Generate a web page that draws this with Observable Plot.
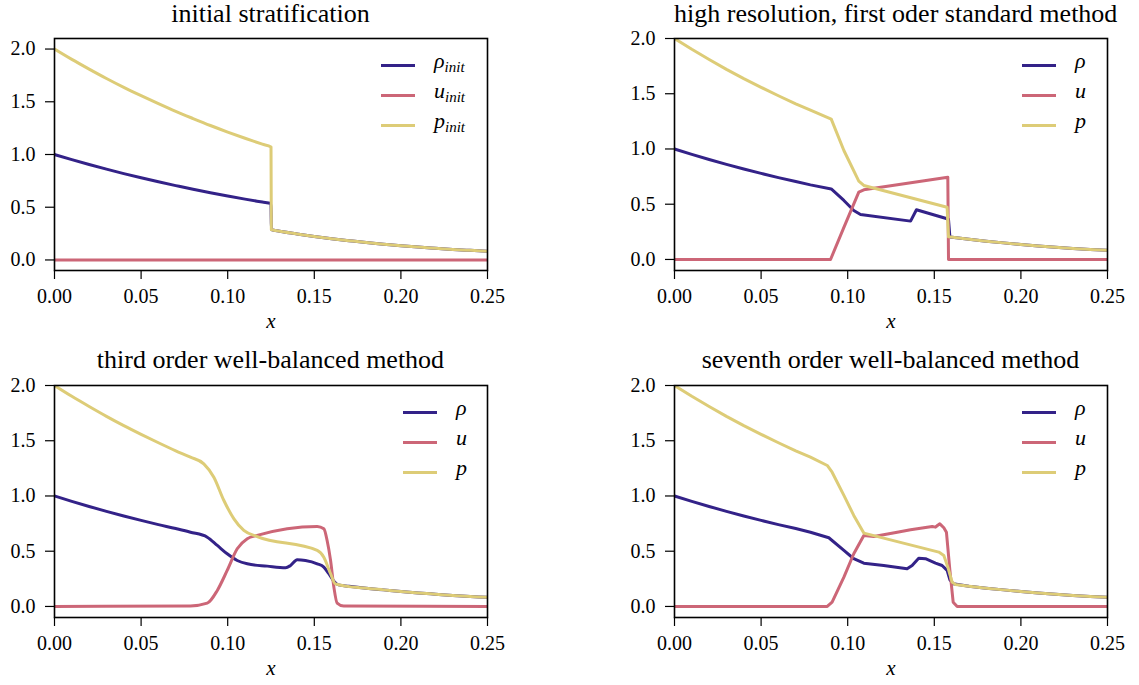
<!DOCTYPE html>
<html><head><meta charset="utf-8">
<script src="https://cdn.jsdelivr.net/npm/d3@7"></script>
<script src="https://cdn.jsdelivr.net/npm/@observablehq/plot@0.6"></script>
<style>
html,body{margin:0;padding:0;background:#fff;}
#wrap{position:relative;width:1139px;height:685px;background:#fff;font-family:"Liberation Serif",serif;color:#000;overflow:hidden}
.panel{position:absolute;width:569px;height:340px}
.panel svg{max-width:none !important;width:569px;height:340px;overflow:visible;background:transparent;font-family:"Liberation Serif",serif !important}
.panel svg text{font-family:"Liberation Serif",serif !important;}
.title{position:absolute;width:433px;text-align:center;font-size:26px;line-height:28px;white-space:nowrap}
.lg-line{position:absolute;height:3px;width:34px}
.lg-text{position:absolute;font-family:"Liberation Serif",serif;font-style:italic;font-size:22px;line-height:24px;height:24px;white-space:nowrap}
.lg-text sub{font-size:15px;vertical-align:baseline;position:relative;top:4px}
</style>
</head><body><div id="wrap"></div>
<script>
// ---------- tick labels ----------
const xTicks = [0, 0.05, 0.10, 0.15, 0.20, 0.25];
const yTicks = [0, 0.5, 1.0, 1.5, 2.0];

// ---------- colours ----------
const colRho = "#332288", colU = "#CC6677", colP = "#DDCC77";

// ---------- panel titles ----------
const titles = [
  "initial stratification",
  "high resolution, first oder standard method",
  "third order well-balanced method",
  "seventh order well-balanced method"
];

// ---------- panel 1: initial stratification ----------
const x1 = [0,0.01,0.02,0.03,0.04,0.05,0.06,0.07,0.08,0.09,0.10,0.11,0.12,0.1250,0.1252,0.13,0.14,0.15,0.16,0.17,0.18,0.19,0.20,0.21,0.22,0.23,0.24,0.25];
const rho1 = [1.000,0.951,0.905,0.861,0.819,0.779,0.741,0.705,0.670,0.638,0.607,0.577,0.549,0.535,0.287,0.273,0.247,0.223,0.202,0.183,0.165,0.150,0.135,0.122,0.111,0.100,0.091,0.082];
const p1 = [2.000,1.902,1.810,1.721,1.637,1.558,1.482,1.409,1.341,1.275,1.213,1.154,1.098,1.071,0.287,0.273,0.247,0.223,0.202,0.183,0.165,0.150,0.135,0.122,0.111,0.100,0.091,0.082];
const xu1 = [0, 0.25];
const u1 = [0, 0];

// ---------- panel 2: first order standard ----------
const xRho2 = [0,0.01,0.02,0.03,0.04,0.05,0.06,0.07,0.0785,0.0905,0.0978,0.1035,0.1074,0.1363,0.1397,0.1574,0.1582,0.1590,0.17,0.18,0.19,0.20,0.21,0.22,0.23,0.24,0.25];
const rho2 = [1.000,0.951,0.905,0.861,0.819,0.779,0.741,0.705,0.675,0.638,0.534,0.443,0.407,0.347,0.450,0.368,0.362,0.204,0.183,0.165,0.150,0.135,0.122,0.111,0.100,0.091,0.082];
const xP2 = [0,0.01,0.02,0.03,0.04,0.05,0.06,0.07,0.0785,0.0905,0.0978,0.1064,0.1093,0.1574,0.1582,0.17,0.18,0.19,0.20,0.21,0.22,0.23,0.24,0.25];
const p2 = [2.000,1.902,1.810,1.721,1.637,1.558,1.482,1.409,1.351,1.270,0.986,0.709,0.670,0.473,0.205,0.183,0.165,0.150,0.135,0.122,0.111,0.100,0.091,0.082];
const xU2 = [0,0.0901,0.0978,0.1064,0.1093,0.1578,0.1582,0.25];
const u2 = [0,0,0.29,0.61,0.63,0.745,0,0];

// ---------- panel 3: third order well-balanced ----------
const xRho3 = [0,0.01,0.02,0.03,0.04,0.05,0.06,0.07,0.0785,0.0882,0.094,0.0997,0.1055,0.1113,0.1228,0.1334,0.1363,0.1401,0.1449,0.1517,0.1555,0.1584,0.1613,0.1640,0.17,0.18,0.19,0.20,0.21,0.22,0.23,0.24,0.25];
const rho3 = [1.000,0.951,0.905,0.861,0.819,0.779,0.741,0.705,0.672,0.627,0.552,0.477,0.416,0.386,0.365,0.350,0.371,0.423,0.416,0.386,0.356,0.296,0.229,0.195,0.183,0.165,0.150,0.135,0.122,0.111,0.100,0.091,0.082];
const xP3 = [0,0.01,0.02,0.03,0.04,0.05,0.06,0.07,0.0785,0.0862,0.092,0.0978,0.1036,0.1093,0.117,0.1517,0.1555,0.1594,0.1622,0.1767,0.18,0.19,0.20,0.21,0.22,0.23,0.24,0.25];
const p3 = [2.000,1.902,1.810,1.721,1.637,1.558,1.482,1.409,1.351,1.291,1.170,0.959,0.793,0.688,0.633,0.507,0.446,0.296,0.205,0.169,0.165,0.150,0.135,0.122,0.111,0.100,0.091,0.082];
const xU3 = [0,0.0785,0.0882,0.094,0.0997,0.1055,0.1113,0.117,0.1517,0.1555,0.1574,0.1594,0.1613,0.1632,0.167,0.25];
const u3 = [0,0.005,0.030,0.145,0.326,0.522,0.613,0.643,0.724,0.703,0.597,0.416,0.175,0.030,0.003,0];

// ---------- panel 4: seventh order well-balanced ----------
const xRho4 = [0,0.01,0.02,0.03,0.04,0.05,0.06,0.07,0.0785,0.0891,0.0978,0.1035,0.1093,0.1208,0.1343,0.1372,0.141,0.1449,0.1507,0.1545,0.1574,0.159,0.1609,0.17,0.18,0.19,0.20,0.21,0.22,0.23,0.24,0.25];
const rho4 = [1.000,0.951,0.905,0.861,0.819,0.779,0.741,0.705,0.672,0.622,0.507,0.432,0.392,0.371,0.341,0.371,0.437,0.432,0.392,0.371,0.326,0.242,0.205,0.183,0.165,0.150,0.135,0.122,0.111,0.100,0.091,0.082];
const xP4 = [0,0.01,0.02,0.03,0.04,0.05,0.06,0.07,0.0785,0.0882,0.091,0.0978,0.1035,0.1093,0.1122,0.1526,0.1555,0.1578,0.1603,0.1622,0.17,0.18,0.19,0.20,0.21,0.22,0.23,0.24,0.25];
const p4 = [2.000,1.902,1.810,1.721,1.637,1.558,1.482,1.409,1.351,1.276,1.215,1.005,0.824,0.664,0.652,0.492,0.462,0.356,0.220,0.199,0.183,0.165,0.150,0.135,0.122,0.111,0.100,0.091,0.082];
const xU4 = [0,0.0882,0.091,0.0978,0.1035,0.1093,0.1151,0.1286,0.1363,0.144,0.1488,0.1507,0.1520,0.1532,0.1555,0.157,0.159,0.1609,0.1632,0.25];
const u4 = [0,0,0.039,0.265,0.477,0.643,0.633,0.672,0.694,0.712,0.724,0.718,0.735,0.748,0.712,0.672,0.326,0.039,0,0];

// ---------- build ----------
const wrap = document.getElementById("wrap");
const W = 569, H = 340, ML = 54, MR = 82, MT = 38, MB = 70;
const SERIF = "Liberation Serif";

function makePanel(cfg) {
  const marks = [];
  cfg.series.forEach((s, i) => {
    const curve = (cfg.curves && cfg.curves[i]) || cfg.curve;
    marks.push(Plot.line(d3.zip(s.x, s.y), {x: d => d[0], y: d => d[1], stroke: s.color, strokeWidth: 3, curve, clip: true}));
  });
  marks.push(Plot.axisX({ticks: xTicks, tickFormat: d3.format(".2f"), tickSize: 9, tickPadding: 9, label: null, strokeWidth: 1.2, fontFamily: SERIF, fontSize: 20}));
  marks.push(Plot.axisY({ticks: yTicks, tickFormat: d3.format(".1f"), tickSize: 9, tickPadding: 10, label: null, strokeWidth: 1.2, fontFamily: SERIF, fontSize: 20}));
  marks.push(Plot.frame({stroke: "black", strokeWidth: 1.6}));
  marks.push(Plot.text(["x"], {text: d => d, frameAnchor: "bottom", dy: 57, fontStyle: "italic", fontSize: 21, fontFamily: SERIF}));
  const svg = Plot.plot({
    width: W, height: H, marginLeft: ML, marginRight: MR, marginTop: MT, marginBottom: MB,
    x: {domain: [0, 0.25]}, y: {domain: cfg.yDomain},
    style: {fontFamily: SERIF, fontSize: "20px", color: "black", background: "transparent"},
    marks
  });
  const div = document.createElement("div");
  div.className = "panel";
  div.style.left = cfg.left + "px";
  div.style.top = cfg.top + "px";
  div.appendChild(svg);
  wrap.appendChild(div);

  const t = document.createElement("div");
  t.className = "title";
  t.style.left = (cfg.left + ML) + "px";
  t.style.top = (cfg.titleTop) + "px";
  t.textContent = cfg.title;
  wrap.appendChild(t);

  cfg.legend.forEach((item, i) => {
    const y = cfg.legendY + i * 30;
    const ln = document.createElement("div");
    ln.className = "lg-line";
    ln.style.left = cfg.legendX + "px";
    ln.style.top = (y - 1.5) + "px";
    ln.style.background = item.color;
    wrap.appendChild(ln);
    const tx = document.createElement("div");
    tx.className = "lg-text";
    tx.style.left = (cfg.legendX + 53) + "px";
    tx.style.top = (y - 16) + "px";
    tx.innerHTML = item.label;
    wrap.appendChild(tx);
  });
}

const legInit = [
  {label: "ρ<sub>init</sub>", color: colRho},
  {label: "u<sub>init</sub>", color: colU},
  {label: "p<sub>init</sub>", color: colP}
];
const legSol = [
  {label: "ρ", color: colRho},
  {label: "u", color: colU},
  {label: "p", color: colP}
];

makePanel({left: 0, top: 0, titleTop: 0, title: titles[0], yDomain: [-0.1, 2.1], curve: "monotone-x", legendX: 381, legendY: 65, legend: legInit,
  series: [{x: x1, y: rho1, color: colRho}, {x: xu1, y: u1, color: colU}, {x: x1, y: p1, color: colP}]});
makePanel({left: 620, top: 0, titleTop: 0, title: titles[1], yDomain: [-0.1, 2.0], curve: "linear", legendX: 1022, legendY: 65, legend: legSol,
  series: [{x: xRho2, y: rho2, color: colRho}, {x: xU2, y: u2, color: colU}, {x: xP2, y: p2, color: colP}]});
makePanel({left: 0, top: 347, titleTop: 346, title: titles[2], yDomain: [-0.1, 2.0], curve: "monotone-x", legendX: 403, legendY: 412, legend: legSol,
  series: [{x: xRho3, y: rho3, color: colRho}, {x: xU3, y: u3, color: colU}, {x: xP3, y: p3, color: colP}]});
makePanel({left: 620, top: 347, titleTop: 346, title: titles[3], yDomain: [-0.1, 2.0], curve: "linear", legendX: 1022, legendY: 412, legend: legSol,
  series: [{x: xRho4, y: rho4, color: colRho}, {x: xU4, y: u4, color: colU}, {x: xP4, y: p4, color: colP}]});
</script></body></html>
